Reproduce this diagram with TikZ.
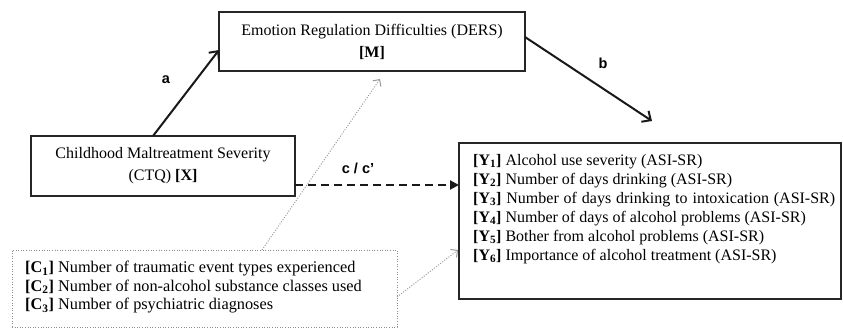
\documentclass[tikz,border=0pt]{standalone}
\usepackage{fontspec}
\setmainfont{Liberation Serif}
\newfontfamily\labfont{Liberation Sans}
\usetikzlibrary{arrows.meta}
\begin{document}
\begin{tikzpicture}[x=1pt,y=-1pt,
  box/.style={draw=black!85,line width=2pt,inner sep=0pt,align=center,font=\fontsize{16}{22}\selectfont},
  cbox/.style={draw=black!45,line width=1pt,dash pattern=on 1pt off 1.6pt,inner sep=0pt},
  listtxt/.style={inner sep=0pt,align=left,anchor=north west,font=\fontsize{16}{19}\selectfont},
  lab/.style={inner sep=0pt,font=\labfont\bfseries\fontsize{14.5}{16}\selectfont},
  solidarrow/.style={draw=black!90,line width=2pt,-{Straight Barb[length=7pt,width=13pt,line width=2pt]}},
  dasharrow/.style={draw=black!90,line width=2pt,dash pattern=on 8pt off 5pt,-{Triangle[length=9pt,width=9pt]}},
  dotarrow/.style={draw=black!40,line width=1pt,dash pattern=on 1pt off 1.6pt,-{Straight Barb[length=5pt,width=10pt,line width=1pt]}}
]
\useasboundingbox (0,0) rectangle (843,329);

\node[box,minimum width=306pt,minimum height=59pt] (M) at (372,41.5)
  {Emotion Regulation Difficulties (DERS)\\\textbf{[M]}};
\node[box,minimum width=264pt,minimum height=60pt] (X) at (163,166)
  {Childhood Maltreatment Severity\\(CTQ) \textbf{[X]}};
\node[box,minimum width=382pt,minimum height=156pt] (Y) at (650,221) {};
\node[cbox,minimum width=385pt,minimum height=77pt] (C) at (204.5,288.5) {};

\node[listtxt] (Ytxt) at (473,154) {%
\textbf{[Y\textsubscript{1}]} Alcohol use severity (ASI-SR)\\
\textbf{[Y\textsubscript{2}]} Number of days drinking (ASI-SR)\\
\makebox[362pt][s]{\textbf{[Y\textsubscript{3}]} Number of days drinking to intoxication (ASI-SR)}\\
\textbf{[Y\textsubscript{4}]} Number of days of alcohol problems (ASI-SR)\\
\textbf{[Y\textsubscript{5}]} Bother from alcohol problems (ASI-SR)\\
\textbf{[Y\textsubscript{6}]} Importance of alcohol treatment (ASI-SR)};

\node[listtxt,font=\fontsize{16.3}{18.5}\selectfont] (Ctxt) at (25,261) {%
\textbf{[C\textsubscript{1}]} Number of traumatic event types experienced\\
\textbf{[C\textsubscript{2}]} Number of non-alcohol substance classes used\\
\textbf{[C\textsubscript{3}]} Number of psychiatric diagnoses};

\coordinate (aS) at (153,136);
\coordinate (aE) at (219,50);
\coordinate (bS) at (525,37);
\coordinate (bE) at (652,121);
\coordinate (cS) at (295,185);
\coordinate (cE) at (459,185);
\coordinate (d1S) at (262,250);
\coordinate (d1E) at (380,79);
\coordinate (d2S) at (397,297);
\coordinate (d2E) at (458,250);

\draw[solidarrow] (aS) -- (aE);
\draw[solidarrow] (bS) -- (bE);
\draw[dasharrow] (cS) -- (cE);
\draw[dotarrow] (d1S) -- (d1E);
\draw[dotarrow] (d2S) -- (d2E);

\node[lab] (la) at (166,80) {a};
\node[lab] (lb) at (603,63) {b};
\node[lab] (lc) at (358,168) {c / c’};
\end{tikzpicture}
\end{document}
